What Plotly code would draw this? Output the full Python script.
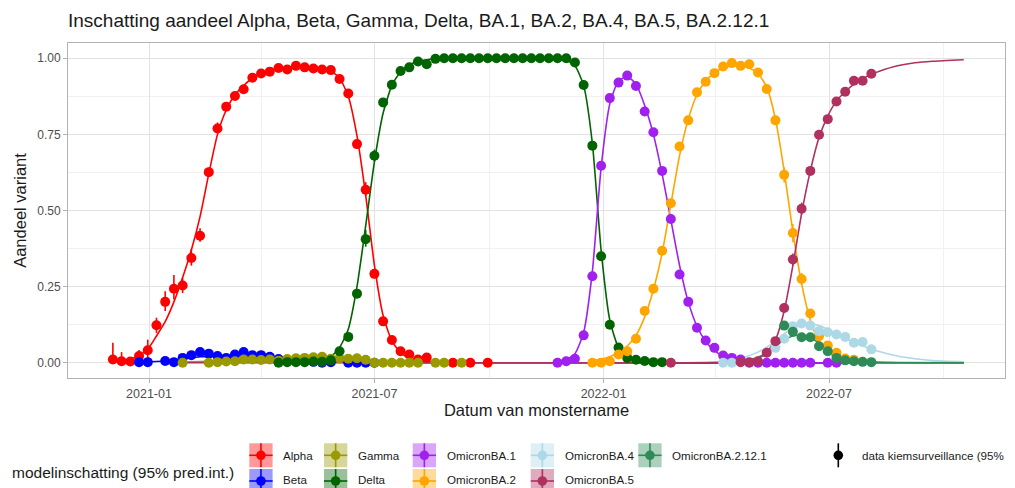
import pandas as pd
import plotly.graph_objects as go

# ---------------- data ----------------
BASE_DATE = pd.Timestamp("2020-12-03")   # week 0 of the surveillance series

variants = ["Alpha", "Beta", "Gamma", "Delta", "OmicronBA.1", "OmicronBA.2",
            "OmicronBA.4", "OmicronBA.5", "OmicronBA.2.12.1"]
colors = ["#FF0000", "#0000FF", "#999900", "#006400", "#A020F0", "#FFA500",
          "#ADD8E6", "#B03060", "#2E8B57"]

# observed weekly shares (first week index, values; None = no point)
alpha_start = 0
alpha_obs = [0.011, 0.005, 0.004, 0.022, 0.041, 0.123, 0.20, 0.243, 0.254, 0.344, 0.417,
             0.626, 0.769, 0.841, 0.876, 0.898, 0.936, 0.950, 0.956, 0.968, 0.963, 0.975,
             0.970, 0.966, 0.963, 0.961, 0.932, 0.884, 0.718, 0.568, 0.292, 0.136, 0.075,
             0.038, 0.027, 0.011, 0.017, None, None, 0.0, None, 0.0, None, 0.0]
beta_start = 3
beta_obs = [0.002, 0.002, None, 0.006, 0.002, 0.016, 0.025, 0.035, 0.030, 0.022, 0.016,
            0.027, 0.035, 0.025, 0.025, 0.020, 0.012, 0.008, 0.006, 0.005, 0.003, 0.0,
            0.002, None, 0.0, 0.0, 0.0, 0.0]
gamma_start = 8
gamma_obs = [0.0, None, None, 0.0, 0.002, 0.004, 0.005, 0.011, 0.011, 0.009, 0.011, 0.007,
             0.012, 0.015, 0.016, 0.018, 0.020, 0.013, 0.015, 0.013, 0.015, 0.010, 0.0,
             0.0, 0.0, 0.0, 0.0, 0.0, None, 0.0, 0.0, None, 0.0]
delta_start = 19
delta_obs = [0.0, 0.002, 0.002, 0.002, 0.004, 0.003, 0.008, 0.038, 0.085, 0.227, 0.406,
             0.68, 0.855, 0.913, 0.958, 0.970, 0.989, 0.980, 0.998, 1.0, 1.0, 1.0, 1.0,
             1.0, 1.0, 1.0, 1.0, 1.0, 1.0, 1.0, 1.0, 1.0, 1.0, 1.0, 0.986, 0.912, 0.713,
             0.35, 0.125, 0.05, 0.016, 0.010, 0.006, 0.002, 0.002]
ba1_start = 51
ba1_obs = [0.0, 0.005, 0.013, 0.09, 0.284, 0.647, 0.869, 0.92, 0.943, 0.909, 0.825, 0.757,
           0.63, 0.472, 0.29, 0.20, 0.115, 0.073, 0.049, 0.024, 0.016, 0.011, 0.0, 0.0,
           0.0, 0.0, 0.0, 0.0, 0.0, 0.0, None, 0.0, 0.0]
ba2_start = 55
ba2_obs = [0.0, 0.0, 0.005, 0.027, 0.038, 0.079, 0.17, 0.243, 0.368, 0.524, 0.71, 0.796,
           0.888, 0.923, 0.951, 0.973, 0.984, 0.975, 0.98, 0.953, 0.899, 0.796, 0.617,
           0.426, 0.275, 0.162, 0.087, 0.057, 0.033, 0.014, 0.010]
ba4_start = 70
ba4_obs = [0.0, 0.0, None, None, None, None, 0.049, 0.079, 0.12, 0.129, 0.122, 0.104,
           0.10, 0.093, 0.085, 0.066, 0.068, 0.044]
ba5_start = 64
ba5_obs = [0.0, None, None, None, None, None, None, None, 0.002, 0.002, 0.005, 0.033,
           0.071, 0.18, 0.339, 0.506, 0.63, 0.749, 0.80, 0.858, 0.89, 0.926, 0.926, 0.949]
ba2121_start = 77
ba2121_obs = [0.122, 0.102, 0.084, 0.084, 0.054, 0.038, 0.016, 0.008, 0.005, 0.003, 0.002]

# visible 95% intervals: week -> (upper extent, lower extent)
alpha_ci = {0: (0.055, 0.01), 1: (0.03, 0.005), 2: (0.008, 0.004), 3: (0.02, 0.015),
            4: (0.035, 0.025), 5: (0.025, 0.025), 6: (0.035, 0.03), 7: (0.045, 0.035),
            8: (0.025, 0.025), 9: (0.03, 0.025), 10: (0.025, 0.02), 11: (0.015, 0.015),
            12: (0.02, 0.015), 28: (0.015, 0.015), 29: (0.025, 0.02), 30: (0.015, 0.015)}
delta_ci = {29: (0.03, 0.025), 30: (0.02, 0.02)}
ba1_ci = {55: (0.015, 0.015)}
ba2_ci = {77: (0.025, 0.025), 78: (0.03, 0.03), 79: (0.02, 0.02)}
ba5_ci = {78: (0.02, 0.02), 79: (0.02, 0.02)}

# model estimate curves: knot weeks and values
alpha_cw = [0, 1, 2, 3, 4, 5, 6, 7, 8, 9, 10, 11, 12, 13, 14, 15, 16, 17, 18, 19, 20, 21, 22,
            23, 24, 25, 26, 27, 28, 29, 30, 31, 32, 33, 34, 35, 37, 40, 45, 97.6]
alpha_cv = [0.005, 0.007, 0.012, 0.024, 0.045, 0.088, 0.135, 0.2, 0.28, 0.37, 0.48, 0.62,
            0.75, 0.83, 0.88, 0.91, 0.935, 0.95, 0.96, 0.967, 0.97, 0.972, 0.972, 0.97,
            0.966, 0.958, 0.935, 0.875, 0.745, 0.55, 0.32, 0.155, 0.072, 0.033, 0.015,
            0.007, 0.002, 0.0, 0.0, 0.0]
beta_cw = [3, 6, 8, 10, 13, 16, 19, 22, 25, 28, 32, 40, 97.6]
beta_cv = [0.003, 0.006, 0.012, 0.02, 0.022, 0.022, 0.015, 0.008, 0.003, 0.001, 0.0, 0.0, 0.0]
gamma_cw = [8, 12, 16, 20, 23, 26, 29, 33, 40, 97.6]
gamma_cv = [0.002, 0.006, 0.012, 0.016, 0.017, 0.012, 0.005, 0.001, 0.0, 0.0]
delta_cw = [19, 21, 22, 23, 24, 25, 26, 27, 28, 29, 30, 31, 32, 33, 34, 35, 36, 38, 40, 50,
            51, 52, 53, 54, 55, 56, 57, 58, 59, 60, 62, 65, 97.6]
delta_cv = [0.0, 0.0005, 0.001, 0.003, 0.008, 0.02, 0.05, 0.11, 0.25, 0.45, 0.66, 0.82,
            0.91, 0.955, 0.978, 0.99, 0.995, 0.999, 1.0, 1.0, 0.998, 0.993, 0.975, 0.91,
            0.72, 0.37, 0.14, 0.05, 0.018, 0.007, 0.002, 0.0, 0.0]
ba1_cw = [51, 52, 53, 54, 55, 56, 57, 58, 59, 60, 61, 62, 63, 64, 65, 66, 67, 68, 69, 70,
          71, 72, 74, 78, 97.6]
ba1_cv = [0.004, 0.01, 0.03, 0.1, 0.3, 0.64, 0.85, 0.925, 0.94, 0.915, 0.845, 0.75, 0.62,
          0.47, 0.32, 0.2, 0.12, 0.07, 0.04, 0.022, 0.012, 0.006, 0.002, 0.0, 0.0]
ba2_cw = [55, 56, 57, 58, 59, 60, 61, 62, 63, 64, 65, 66, 67, 68, 69, 70, 71, 72, 73, 74,
          75, 76, 77, 78, 79, 80, 81, 82, 83, 84, 86, 90, 97.6]
ba2_cv = [0.006, 0.012, 0.02, 0.035, 0.055, 0.09, 0.15, 0.24, 0.36, 0.52, 0.68, 0.8, 0.88,
          0.925, 0.952, 0.968, 0.975, 0.975, 0.968, 0.95, 0.905, 0.8, 0.63, 0.43, 0.26,
          0.14, 0.07, 0.035, 0.017, 0.008, 0.002, 0.0, 0.0]
ba4_cw = [70, 72, 74, 76, 77, 78, 79, 80, 81, 82, 83, 84, 85, 86, 88, 90, 92, 94, 97.6]
ba4_cv = [0.006, 0.015, 0.035, 0.07, 0.095, 0.115, 0.127, 0.128, 0.122, 0.11, 0.095, 0.08,
          0.066, 0.055, 0.036, 0.022, 0.013, 0.007, 0.003]
ba5_cw = [8, 64, 68, 70, 72, 73, 74, 75, 76, 77, 78, 79, 80, 81, 82, 83, 84, 85, 86, 87,
          88, 90, 92, 94, 97.6]
ba5_cv = [0.0, 0.0, 0.001, 0.002, 0.006, 0.01, 0.018, 0.035, 0.075, 0.17, 0.32, 0.49, 0.63,
          0.74, 0.81, 0.86, 0.89, 0.915, 0.933, 0.947, 0.958, 0.975, 0.985, 0.99, 0.995]
ba2121_cw = [70, 72, 74, 75, 76, 77, 78, 79, 80, 81, 82, 83, 84, 85, 87, 90, 97.6]
ba2121_cv = [0.0, 0.005, 0.015, 0.03, 0.055, 0.075, 0.088, 0.09, 0.083, 0.065, 0.045, 0.028,
             0.016, 0.009, 0.003, 0.001, 0.0]

y_ticks = [0.0, 0.25, 0.5, 0.75, 1.0]
y_tick_labels = ["0.00", "0.25", "0.50", "0.75", "1.00"]
x_ticks = ["2021-01-01", "2021-07-01", "2022-01-01", "2022-07-01"]
x_tick_labels = ["2021-01", "2021-07", "2022-01", "2022-07"]

title_text = "Inschatting aandeel Alpha, Beta, Gamma, Delta, BA.1, BA.2, BA.4, BA.5, BA.2.12.1"
legend_title = "modelinschatting (95% pred.int.)"
data_label = "data kiemsurveillance (95%"

obs_series = [(alpha_start, alpha_obs, alpha_ci), (beta_start, beta_obs, {}),
              (gamma_start, gamma_obs, {}), (delta_start, delta_obs, delta_ci),
              (ba1_start, ba1_obs, ba1_ci), (ba2_start, ba2_obs, ba2_ci),
              (ba4_start, ba4_obs, {}), (ba5_start, ba5_obs, ba5_ci),
              (ba2121_start, ba2121_obs, {})]
curve_series = [(alpha_cw, alpha_cv), (beta_cw, beta_cv), (gamma_cw, gamma_cv),
                (delta_cw, delta_cv), (ba1_cw, ba1_cv), (ba2_cw, ba2_cv),
                (ba4_cw, ba4_cv), (ba5_cw, ba5_cv), (ba2121_cw, ba2121_cv)]


def week_to_date(w):
    return BASE_DATE + pd.Timedelta(days=7 * w)


# ---------------- figure ----------------
fig = go.Figure()

for (cw, cv), col in zip(curve_series, colors):
    fig.add_trace(go.Scatter(x=[week_to_date(w) for w in cw], y=cv, mode="lines",
                             line=dict(color=col, width=1.6, shape="spline", smoothing=0.6),
                             showlegend=False, hoverinfo="skip"))

for (start, vals, ci), col in zip(obs_series, colors):
    weeks = [start + i for i in range(len(vals))]
    hi = [ci.get(w, (0, 0))[0] for w in weeks]
    lo = [ci.get(w, (0, 0))[1] for w in weeks]
    fig.add_trace(go.Scatter(x=[week_to_date(w) for w in weeks], y=vals, mode="markers",
                             marker=dict(color=col, size=10, line=dict(width=0)),
                             error_y=dict(type="data", symmetric=False, array=hi,
                                          arrayminus=lo, color=col, thickness=1.6, width=0),
                             showlegend=False))

# page geometry (the HTML body adds an 8px offset around the figure)
OFF = 8
PAGE_W, PAGE_H = 1015, 488
W, H = PAGE_W - OFF, PAGE_H - OFF
PL, PR, PT, PB = 68, 1005, 43, 378      # plot area in page pixels


def px(x):
    return (x - PL) / (PR - PL)


def py(y):
    return (PB - y) / (PB - PT)


def rgba(hexcol, a):
    h = hexcol.lstrip("#")
    return "rgba(%d,%d,%d,%.2f)" % (int(h[0:2], 16), int(h[2:4], 16), int(h[4:6], 16), a)


shapes = []
annotations = []
FONT = "Liberation Sans, Arial, sans-serif"

# legend (manual, ggplot style)
col_x = [249.3, 324.0, 412.7, 530.7, 638.3]
row_y = [443.3, 469.0]
bw, bh = 23.3, 24.0
for i, (name, col) in enumerate(zip(variants, colors)):
    bx = col_x[i // 2]
    by = row_y[i % 2]
    cx, cy = bx + bw / 2, by + bh / 2
    shapes.append(dict(type="rect", xref="paper", yref="paper", x0=px(bx), x1=px(bx + bw),
                       y0=py(by + bh), y1=py(by), fillcolor=rgba(col, 0.4),
                       line=dict(width=0), layer="above"))
    shapes.append(dict(type="line", xref="paper", yref="paper", x0=px(bx), x1=px(bx + bw),
                       y0=py(cy), y1=py(cy), line=dict(color=col, width=1.6)))
    shapes.append(dict(type="line", xref="paper", yref="paper", x0=px(cx), x1=px(cx),
                       y0=py(by + bh), y1=py(by), line=dict(color=col, width=1.6)))
    r = 4.8
    shapes.append(dict(type="circle", xref="paper", yref="paper", x0=px(cx - r), x1=px(cx + r),
                       y0=py(cy + r), y1=py(cy - r), fillcolor=col, line=dict(width=0)))
    ty = cy if i % 2 == 0 else 479.5
    annotations.append(dict(x=px(bx + 32), y=py(ty), xref="paper", yref="paper", text=name,
                            showarrow=False, xanchor="left", yanchor="middle",
                            font=dict(family=FONT, size=11.6, color="#1A1A1A")))

annotations.append(dict(x=px(10), y=py(472.5), xref="paper", yref="paper", text=legend_title,
                        showarrow=False, xanchor="left", yanchor="middle",
                        font=dict(family=FONT, size=15.5, color="#1A1A1A")))

dx, dy = 838.3, 455.3
shapes.append(dict(type="line", xref="paper", yref="paper", x0=px(dx), x1=px(dx),
                   y0=py(dy + 12), y1=py(dy - 12), line=dict(color="black", width=1.6)))
shapes.append(dict(type="circle", xref="paper", yref="paper", x0=px(dx - 4.8), x1=px(dx + 4.8),
                   y0=py(dy + 4.8), y1=py(dy - 4.8), fillcolor="black", line=dict(width=0)))
annotations.append(dict(x=px(860), y=py(dy), xref="paper", yref="paper", text=data_label,
                        showarrow=False, xanchor="left", yanchor="middle",
                        font=dict(family=FONT, size=11.6, color="#1A1A1A")))

x_left = pd.Timestamp("2021-01-01") - pd.Timedelta(days=(149 - PL) / 1.2454)
x_right = pd.Timestamp("2022-07-01") + pd.Timedelta(days=(PR - 829) / 1.2454)

fig.update_layout(
    width=W, height=H, autosize=False,
    margin=dict(l=PL - OFF, r=PAGE_W - PR, t=PT - OFF, b=PAGE_H - PB, autoexpand=False),
    paper_bgcolor="white", plot_bgcolor="white",
    font=dict(family=FONT, color="#1A1A1A"),
    title=dict(text=title_text, x=0, xref="paper", xanchor="left",
               y=1 - (20 - OFF) / H, yref="container", yanchor="middle",
               font=dict(family=FONT, size=19, color="#1A1A1A")),
    xaxis=dict(type="date", range=[x_left, x_right], tickvals=x_ticks, ticktext=x_tick_labels,
               automargin=False,
               showgrid=True, gridcolor="#E2E2E2", gridwidth=1,
               minor=dict(dtick="M3", tick0="2021-01-01", showgrid=True, gridcolor="#F1F1F1",
                          gridwidth=1, ticks=""),
               showline=True, linecolor="#B3B3B3", linewidth=1, mirror=True,
               ticks="outside", ticklen=4, tickcolor="#B3B3B3",
               tickfont=dict(family=FONT, size=12.5, color="#4D4D4D"),
               title=dict(text="Datum van monstername", standoff=3,
                          font=dict(family=FONT, size=16.5, color="#1A1A1A")),
               zeroline=False),
    yaxis=dict(range=[-0.05, 1.05], tickvals=y_ticks, ticktext=y_tick_labels,
               automargin=False,
               showgrid=True, gridcolor="#E2E2E2", gridwidth=1,
               minor=dict(dtick=0.125, tick0=0.125, showgrid=True, gridcolor="#F1F1F1",
                          gridwidth=1, ticks=""),
               showline=True, linecolor="#B3B3B3", linewidth=1, mirror=True,
               ticks="outside", ticklen=4, tickcolor="#B3B3B3",
               tickfont=dict(family=FONT, size=12, color="#4D4D4D"),
               title=dict(text="Aandeel variant", standoff=6,
                          font=dict(family=FONT, size=16.5, color="#1A1A1A")),
               zeroline=False),
    shapes=shapes,
    annotations=annotations,
    showlegend=False,
)

fig.write_html("out.html")
